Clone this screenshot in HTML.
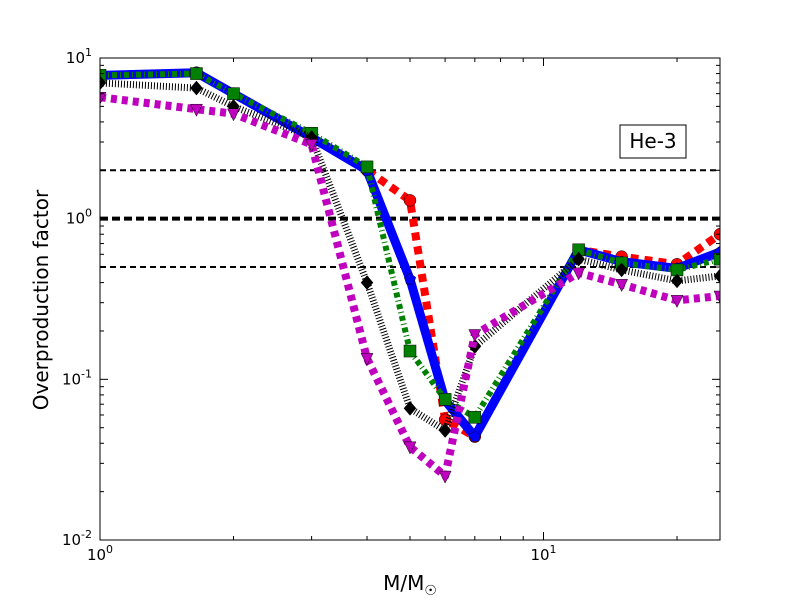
<!DOCTYPE html>
<html><head><meta charset="utf-8"><style>
body{margin:0;background:#fff;}
svg text{font-family:"DejaVu Sans","Liberation Sans",sans-serif;}
</style></head><body>
<svg id="c" width="800" height="600" xmlns="http://www.w3.org/2000/svg">
<rect width="800" height="600" fill="#fff"/>
<g id="plot"></g>
</svg>
<script>
const masses=[1,1.65,2,3,4,5,6,7,12,15,20,25];
const blueVals=[7.8,8.1,6.0,3.2,2.0,0.42,0.074,0.044,0.64,0.54,0.49,0.62];
const redVals=[7.8,8.1,6.0,3.2,2.0,1.3,0.056,0.044,0.64,0.58,0.52,0.8];
const greenVals=[7.8,8.0,6.0,3.4,2.1,0.15,0.075,0.058,0.64,0.53,0.48,0.56];
const blackVals=[7.0,6.5,5.0,3.2,0.4,0.066,0.048,0.16,0.56,0.48,0.41,0.44];
const magentaVals=[5.7,4.8,4.5,2.9,0.135,0.038,0.025,0.19,0.46,0.39,0.31,0.33];
const refLines=[2,1,0.5];
const xTickVals=[1,10];
const yTickVals=[0.01,0.1,1,10];

const L=100,R=720,T=58,B=540;
const xmin=1,xmax=25,ymin=0.01,ymax=10;
const X=v=>L+(Math.log10(v)-Math.log10(xmin))/(Math.log10(xmax)-Math.log10(xmin))*(R-L);
const Y=v=>B-(Math.log10(v)-Math.log10(ymin))/(Math.log10(ymax)-Math.log10(ymin))*(B-T);
const NS="http://www.w3.org/2000/svg";
const g=document.getElementById('plot');
function mk(t,a,p){const e=document.createElementNS(NS,t);for(const k in a)e.setAttribute(k,a[k]);(p||g).appendChild(e);return e;}

const clip=mk('clipPath',{id:'cp'});mk('rect',{x:L,y:T,width:R-L,height:B-T},clip);
const inner=mk('g',{'clip-path':'url(#cp)'});



refLines.forEach((v,i)=>{
 const l=mk('line',{x1:L,x2:R,y1:Y(v),y2:Y(v),stroke:'#000','stroke-width':v===1?4:2,'stroke-dasharray':v===1?'8,4':'6,4'},inner);
 
 
});

function series(vals,color,w,dash,name,marker){
 const pts=masses.map((m,i)=>X(m)+','+Y(vals[i])).join(' ');
 const pl=mk('polyline',{points:pts,fill:'none',stroke:color,'stroke-width':w,'stroke-dasharray':dash,'stroke-linejoin':'round','stroke-linecap':'butt'},inner);
 
 
 masses.forEach((m,i)=>{
  const x=X(m),y=Y(vals[i]);let e;
  if(marker==='o')e=mk('circle',{cx:x,cy:y,r:6,fill:color,stroke:'#000','stroke-width':0.5},inner);
  else if(marker==='s')e=mk('rect',{x:x-6,y:y-6,width:12,height:12,fill:color,stroke:'#000','stroke-width':0.5},inner);
  else if(marker==='d')e=mk('polygon',{points:`${x},${y-7} ${x+6},${y} ${x},${y+7} ${x-6},${y}`,fill:color,stroke:'#000','stroke-width':0.5},inner);
  else if(marker==='p'){const p=[];for(let k=0;k<5;k++){const a=-Math.PI/2+k*2*Math.PI/5;p.push((x+6*Math.cos(a))+','+(y+6*Math.sin(a)));}
   e=mk('polygon',{points:p.join(' '),fill:color,stroke:'#000','stroke-width':0.5},inner);}
  else e=mk('polygon',{points:`${x-6},${y-5} ${x+6},${y-5} ${x},${y+7}`,fill:color,stroke:'#000','stroke-width':0.5},inner);
  
  
 });
}
series(redVals,'#ff0000',8,'8,6','red-series','o');
series(blueVals,'#0000ff',9,'','blue-series','p');
series(greenVals,'#008000',6,'5,3,1,3','green-series','s');
series(blackVals,'#000000',7,'1,2','black-series','d');
series(magentaVals,'#bf00bf',8,'6,5','magenta-series','v');

const fr=mk('rect',{x:L,y:T,width:R-L,height:B-T,fill:'none',stroke:'#000','stroke-width':1});



for(let d=0;d<2;d++)for(let k=1;k<10;k++){const v=Math.pow(10,d)*k;if(v>xmax)break;const x=X(v);const len=k===1?8:4;
 mk('line',{x1:x,x2:x,y1:B,y2:B-len,stroke:'#000'});mk('line',{x1:x,x2:x,y1:T,y2:T+len,stroke:'#000'});}
for(let d=-2;d<1;d++)for(let k=1;k<10;k++){const v=Math.pow(10,d)*k;const y=Y(v);const len=k===1?8:4;
 mk('line',{x1:L,x2:L+len,y1:y,y2:y,stroke:'#000'});mk('line',{x1:R,x2:R-len,y1:y,y2:y,stroke:'#000'});}
const expo=v=>Math.round(Math.log10(v));
xTickVals.forEach(v=>{const t=mk('text',{x:X(v),y:B+20,'text-anchor':'middle','font-size':15});
 t.innerHTML='10<tspan dy="-7" font-size="11">'+expo(v)+'</tspan>';
 });
yTickVals.forEach(v=>{const t=mk('text',{x:L-8,y:Y(v)+5,'text-anchor':'end','font-size':15});
 t.innerHTML='10<tspan dy="-7" font-size="11">'+expo(v)+'</tspan>';
 });

const xt=mk('text',{x:410,y:590,'text-anchor':'middle','font-size':20});
xt.innerHTML='M/M<tspan dy="5" font-size="14">☉</tspan>';

const yt=mk('text',{x:48,y:300,'text-anchor':'middle','font-size':20,transform:'rotate(-90 48 300)'});
yt.textContent='Overproduction factor';


const lb=mk('rect',{x:620,y:125,width:66,height:33,fill:'#fff',stroke:'#000','stroke-width':1});

const lt=mk('text',{x:653,y:148,'text-anchor':'middle','font-size':20});lt.textContent='He-3';

</script>
</body></html>
